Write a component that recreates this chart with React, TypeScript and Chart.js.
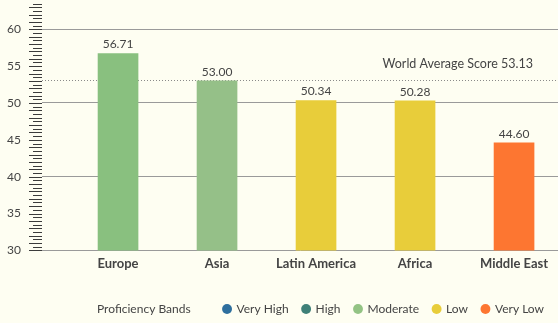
import React, { useEffect, useRef } from "react";
import { Chart, registerables } from "chart.js";
Chart.register(...registerables);

const regions = ["Europe", "Asia", "Latin America", "Africa", "Middle East"];
const scores = [56.71, 53.0, 50.34, 50.28, 44.6];
const barColors = ["#89c07f", "#95c088", "#e8cd3a", "#e8cd3a", "#fd7631"];
const worldAverage = 53.13;
const worldAverageLabel = "World Average Score 53.13";
const bands = ["Very High", "High", "Moderate", "Low", "Very Low"];
const bandColors = ["#2e6f9e", "#3f8078", "#93c384", "#e8cd3a", "#fd7631"];
const legendTitle = "Proficiency Bands";
const yTickValues = [30, 35, 40, 45, 50, 55, 60];
const gridValues = [40, 50, 60];

const FONT = "Lato, 'Open Sans', sans-serif";
const TEXT = "#444444";
const BG = "#fefef2";

const extras = {
  id: "extras",
  beforeDatasetsDraw(chart: any) {
    const { ctx, chartArea, scales } = chart;
    const y = scales.y;
    const py = Math.round(y.getPixelForValue(worldAverage)) + 0.5;
    ctx.save();
    ctx.strokeStyle = "#8a8a8a";
    ctx.lineWidth = 1;
    ctx.setLineDash([1, 2]);
    ctx.beginPath();
    ctx.moveTo(chartArea.left, py);
    ctx.lineTo(chartArea.right, py);
    ctx.stroke();
    ctx.setLineDash([]);
    ctx.fillStyle = TEXT;
    ctx.font = `12.5px ${FONT}`;
    ctx.textAlign = "right";
    ctx.textBaseline = "middle";
    ctx.fillText(worldAverageLabel, chartArea.right - 25, py - 17);
    ctx.restore();
  },
  afterDatasetsDraw(chart: any) {
    const { ctx, chartArea, scales } = chart;
    const y = scales.y;
    ctx.save();
    const meta = chart.getDatasetMeta(0);
    ctx.fillStyle = TEXT;
    ctx.font = `12px ${FONT}`;
    ctx.textAlign = "center";
    ctx.textBaseline = "bottom";
    meta.data.forEach((bar: any, i: number) => {
      ctx.fillText(scores[i].toFixed(2), bar.x, bar.y - 3);
    });
    ctx.strokeStyle = "#3c3c3c";
    ctx.lineWidth = 1;
    for (let v = y.min; v <= y.max + 1e-6; v += 0.5) {
      const p = Math.round(y.getPixelForValue(v)) + 0.5;
      const long = Math.abs(v - Math.round(v)) < 1e-6;
      ctx.beginPath();
      ctx.moveTo(chartArea.left - (long ? 13 : 9), p);
      ctx.lineTo(chartArea.left, p);
      ctx.stroke();
    }
    ctx.restore();
  },
  afterDraw(chart: any) {
    const { ctx } = chart;
    const boxes = chart.legend?.legendHitBoxes;
    if (!boxes || !boxes.length) return;
    const b = boxes[0];
    ctx.save();
    ctx.fillStyle = TEXT;
    ctx.font = `12px ${FONT}`;
    ctx.textAlign = "left";
    ctx.textBaseline = "middle";
    ctx.fillText(legendTitle, 97, b.top + b.height / 2);
    ctx.restore();
  },
};

export default function App() {
  const ref = useRef<HTMLCanvasElement>(null);
  useEffect(() => {
    if (!ref.current) return;
    const chart = new Chart(ref.current, {
      type: "bar",
      data: {
        datasets: [
          {
            data: scores.map((v, i) => ({ x: i + 1, y: v })) as any,
            backgroundColor: barColors,
            barThickness: 40,
          },
        ],
      },
      options: {
        animation: false,
        responsive: true,
        maintainAspectRatio: false,
        layout: { padding: { left: 0, right: 0, top: 3.5, bottom: -2 } },
        scales: {
          x: {
            type: "linear",
            offset: false,
            min: 0.232,
            max: 5.444,
            afterBuildTicks: (s: any) => {
              s.ticks = regions.map((_, i) => ({ value: i + 1 }));
            },
            afterFit: (s: any) => {
              s.height += 11;
            },
            ticks: {
              autoSkip: false,
              maxRotation: 0,
              callback: (v: any) => regions[Math.round(v) - 1] ?? "",
              color: TEXT,
              font: { family: FONT, size: 13, weight: "bold" },
              padding: 6,
            },
            grid: { display: false, drawTicks: false },
            border: { display: true, color: "#9a9a9a" },
          },
          y: {
            min: 30,
            max: 63.5,
            afterBuildTicks: (s: any) => {
              s.ticks = yTickValues.map((v) => ({ value: v }));
            },
            afterFit: (s: any) => {
              s.width = 42;
              s.paddingTop = 0;
              s.paddingBottom = 0;
            },
            ticks: {
              color: TEXT,
              font: { family: FONT, size: 12 },
              padding: 21,
            },
            grid: {
              drawTicks: false,
              color: (c: any) => (gridValues.includes(c.tick?.value) ? "#9a9a9a" : "rgba(0,0,0,0)"),
            },
            border: { display: false },
          },
        },
        plugins: {
          tooltip: { enabled: false },
          legend: {
            position: "bottom",
            align: "end",
            onClick: () => {},
            labels: {
              usePointStyle: true,
              boxWidth: 7,
              boxHeight: 7,
              padding: 14,
              color: TEXT,
              font: { family: FONT, size: 12 },
              generateLabels: () =>
                bands.map((b, i) => ({
                  text: b,
                  fillStyle: bandColors[i],
                  strokeStyle: bandColors[i],
                  lineWidth: 0,
                  pointStyle: "circle",
                  hidden: false,
                  fontColor: TEXT,
                })) as any,
            },
          },
        },
      },
      plugins: [extras],
    });
    return () => chart.destroy();
  }, []);
  return (
    <div style={{ position: "fixed", left: 0, top: 0, width: 558, height: 323, background: BG }}>
      <canvas ref={ref} />
    </div>
  );
}
